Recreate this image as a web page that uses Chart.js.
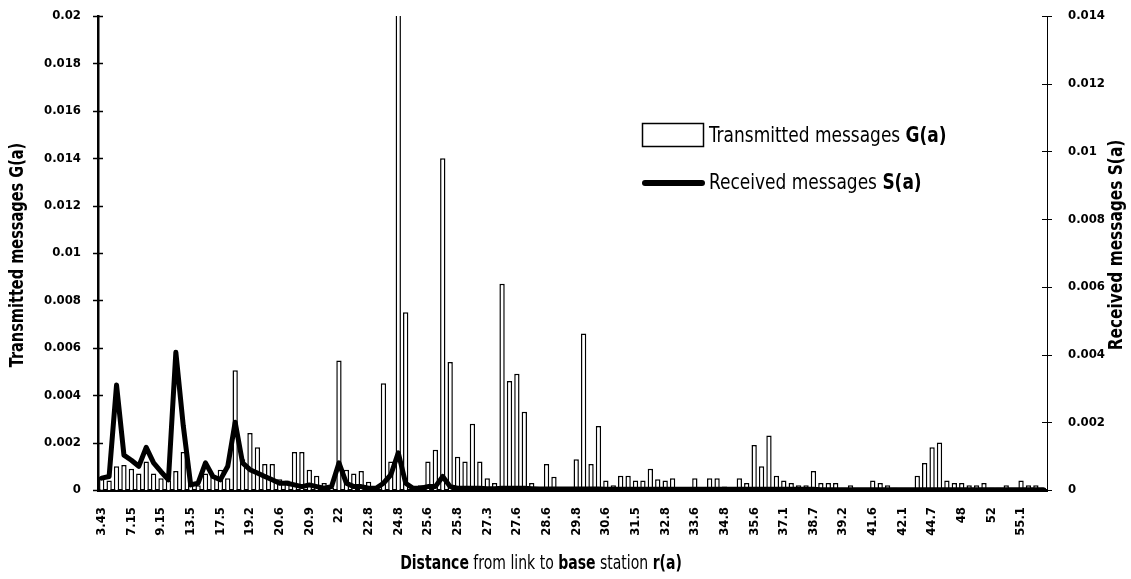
<!DOCTYPE html>
<html>
<head>
<meta charset="utf-8">
<script src="https://cdn.jsdelivr.net/npm/chart.js@4.4.0/dist/chart.umd.min.js"></script>
<style>
html,body{margin:0;padding:0;background:#fff;}
#wrap{position:relative;width:1131px;height:579px;}
</style>
</head>
<body>
<div id="wrap"><canvas id="c" width="1131" height="579"></canvas></div>
<script>
// Tick labels shown on the category axis (every 4th category)
const tickLabels = ['3.43','7.15','9.15','13.5','17.5','19.2','20.6','20.9','22','22.8','24.8','25.6','25.8','27.3','27.6','28.6','29.8','30.6','31.5','32.8','33.6','34.8','35.6','37.1','38.7','39.2','41.6','42.1','44.7','48','52','55.1'];

// Transmitted messages G(a) (left axis), one value per category
const transmitted = [
  0.00055,0.0004,0.0010,0.00106,0.0009,0.0007,0.0012,0.0007,
  0.0005,0.0004,0.0008,0.0016,0.0003,0.0002,0.0007,0.0006,
  0.00085,0.0005,0.00505,0.0013,0.0024,0.0018,0.0011,0.0011,
  0.00045,0.0004,0.0016,0.0016,0.00085,0.0006,0.0003,0.0001,
  0.00546,0.00085,0.0007,0.0008,0.00035,0.0001,0.0045,0.0012,
  0.0215,0.0075,0.0001,0.0002,0.0012,0.0017,0.0140,0.0054,
  0.0014,0.0012,0.0028,0.0012,0.0005,0.0003,0.0087,0.0046,
  0.0049,0.0033,0.0003,0.0001,0.0011,0.00056,0.00005,0.00005,
  0.0013,0.0066,0.0011,0.0027,0.0004,0.0002,0.0006,0.0006,
  0.0004,0.0004,0.0009,0.00045,0.0004,0.0005,0.00005,0.00005,
  0.0005,0.0001,0.0005,0.0005,0.00015,0.0001,0.0005,0.0003,
  0.0019,0.0010,0.0023,0.0006,0.0004,0.0003,0.0002,0.0002,
  0.0008,0.0003,0.0003,0.0003,0.0001,0.0002,0.00005,0.00005,
  0.0004,0.0003,0.0002,0.0001,0.00005,0.00005,0.0006,0.00114,
  0.0018,0.0020,0.0004,0.0003,0.0003,0.0002,0.0002,0.0003,
  0.0001,0.0001,0.0002,0.00005,0.0004,0.0002,0.0002,0.0001
];

// Received messages S(a) (right axis), one value per category
const received = [
  0.00035,0.0004,0.0031,0.00103,0.00088,0.0007,0.00126,0.0008,
  0.00054,0.0003,0.00407,0.0019,0.00015,0.0002,0.0008,0.0004,
  0.0003,0.0007,0.0020,0.0008,0.0006,0.0005,0.0004,0.0003,
  0.0002,0.0002,0.00015,0.0001,0.00015,0.0001,0.00005,0.0001,
  0.0008,0.0002,0.0001,0.0001,0.00005,0.00005,0.0002,0.00045,
  0.0011,0.0002,0.00005,0.00005,0.0001,0.0001,0.0004,0.0001,
  0.00005,0.00005,0.00005,0.00005,0.00004,0.00004,0.00005,0.00005,
  0.00005,0.00005,0.00004,0.00003,0.00003,0.00003,0.00003,0.00003,
  0.00003,0.00003,0.00003,0.00003,0.00002,0.00002,0.00002,0.00002,
  0.00002,0.00002,0.00002,0.00002,0.00002,0.00002,0.00002,0.00002,
  0.00002,0.00002,0.00002,0.00002,0.00002,0.00002,0.00002,0.00002,
  0.00002,0.00002,0.00002,0.00002,0.00002,0.00002,0.00002,0.00002,
  0.00002,0.00001,0.00001,0.00001,0.00001,0.00001,0.00001,0.00001,
  0.00001,0.00001,0.00001,0.00001,0.00001,0.00001,0.00001,0.00001,
  0.00001,0.00001,0.00001,0.00001,0.00001,0.00001,0.00001,0.00001,
  0.00001,0.00001,0.00001,0.00001,0.00001,0.00001,0.00001,0.00001
];

const leftAxisMax = 0.02, leftStep = 0.002;
const rightAxisMax = 0.014, rightStep = 0.002;

const categories = transmitted.map((_, i) => (i % 4 === 0 ? tickLabels[i / 4] : ''));

const NARROW = "'DejaVu Sans Condensed','Liberation Sans Narrow',sans-serif";
const fmt = v => String(+(+v).toFixed(3));

const extras = {
  id: 'extras',
  afterDraw(chart) {
    const ctx = chart.ctx;
    const area = chart.chartArea;
    ctx.save();
    ctx.fillStyle = '#000';
    ctx.strokeStyle = '#000';
    // crossing tick marks
    const yL = chart.scales.y, yR = chart.scales.y2;
    ctx.lineWidth = 1.5;
    yL.ticks.forEach(t => {
      const p = Math.round(yL.getPixelForValue(t.value)) + 0.5;
      ctx.beginPath(); ctx.moveTo(area.left - 5, p); ctx.lineTo(area.left + 5, p); ctx.stroke();
    });
    ctx.lineWidth = 1;
    yR.ticks.forEach(t => {
      const p = Math.round(yR.getPixelForValue(t.value)) + 0.5;
      ctx.beginPath(); ctx.moveTo(area.right - 5, p); ctx.lineTo(area.right + 5, p); ctx.stroke();
    });
    // mixed-weight text helper with horizontal squeeze (condensed look)
    function mixed(parts, x, y, size, align, squeeze) {
      ctx.save();
      ctx.translate(x, y);
      ctx.scale(squeeze, 1);
      ctx.textAlign = 'left';
      ctx.textBaseline = 'middle';
      let total = 0;
      parts.forEach(p => { ctx.font = (p[1] ? 'bold ' : '') + size + 'px ' + NARROW; total += ctx.measureText(p[0]).width; });
      let cx = align === 'center' ? -total / 2 : 0;
      parts.forEach(p => { ctx.font = (p[1] ? 'bold ' : '') + size + 'px ' + NARROW; ctx.fillText(p[0], cx, 0); cx += ctx.measureText(p[0]).width; });
      ctx.restore();
    }
    // axis titles (rotated)
    ctx.save(); ctx.translate(18, 255); ctx.rotate(-Math.PI / 2);
    mixed([['Transmitted messages G(a)', true]], 0, 0, 19, 'center', 0.85); ctx.restore();
    ctx.save(); ctx.translate(1117, 245); ctx.rotate(-Math.PI / 2);
    mixed([['Received messages S(a)', true]], 0, 0, 19, 'center', 0.9); ctx.restore();
    // x title
    mixed([['Distance', true], [' from link to ', false], ['base', true], [' station ', false], ['r(a)', true]], 541, 564, 19, 'center', 0.82);
    // legend
    ctx.lineWidth = 1.5;
    ctx.strokeRect(642.5, 123.5, 61, 23);
    mixed([['Transmitted messages ', false], ['G(a)', true]], 709, 137, 21, 'left', 0.9);
    ctx.lineWidth = 6; ctx.lineCap = 'round';
    ctx.beginPath(); ctx.moveTo(645, 183); ctx.lineTo(702, 183); ctx.stroke();
    mixed([['Received messages ', false], ['S(a)', true]], 709, 184, 21, 'left', 0.9);
    ctx.restore();
  }
};

new Chart(document.getElementById('c'), {
  data: {
    labels: categories,
    datasets: [
      {
        type: 'line', label: 'Received messages S(a)', data: received, yAxisID: 'y2', order: 0,
        borderColor: '#000', borderWidth: 5, pointRadius: 0, tension: 0,
        borderJoinStyle: 'round', borderCapStyle: 'round', fill: false
      },
      {
        type: 'bar', label: 'Transmitted messages G(a)', data: transmitted, yAxisID: 'y', order: 1,
        backgroundColor: '#fff', borderColor: '#000', borderWidth: 1.5,
        barPercentage: 0.72, categoryPercentage: 1.0
      }
    ]
  },
  options: {
    responsive: false,
    animation: false,
    devicePixelRatio: 1,
    layout: { padding: { top: 16, left: 0, right: 0, bottom: 0 } },
    plugins: { legend: { display: false }, tooltip: { enabled: false } },
    scales: {
      x: {
        type: 'category',
        offset: true,
        grid: { display: false, drawTicks: false },
        border: { display: true, color: '#000', width: 3 },
        ticks: {
          autoSkip: false, maxRotation: 90, minRotation: 90, padding: 17,
          color: '#000', font: { family: NARROW, size: 13, weight: 'bold' }
        },
        afterFit: s => { s.height = 89; }
      },
      y: {
        position: 'left', min: 0, max: leftAxisMax,
        grid: { display: false, drawTicks: true, tickLength: 14 },
        border: { display: true, color: '#000', width: 2.5 },
        ticks: {
          stepSize: leftStep, padding: 3, color: '#000',
          font: { family: NARROW, size: 13, weight: 'bold' },
          callback: v => fmt(v)
        },
        afterFit: s => { s.width = 98; }
      },
      y2: {
        position: 'right', min: 0, max: rightAxisMax,
        grid: { display: false, drawTicks: true, tickLength: 18 },
        border: { display: true, color: '#000', width: 1 },
        ticks: {
          stepSize: rightStep, padding: 3, color: '#000',
          font: { family: NARROW, size: 13, weight: 'bold' },
          callback: v => fmt(v)
        },
        afterFit: s => { s.width = 84; }
      }
    }
  },
  plugins: [extras]
});
</script>
</body>
</html>
